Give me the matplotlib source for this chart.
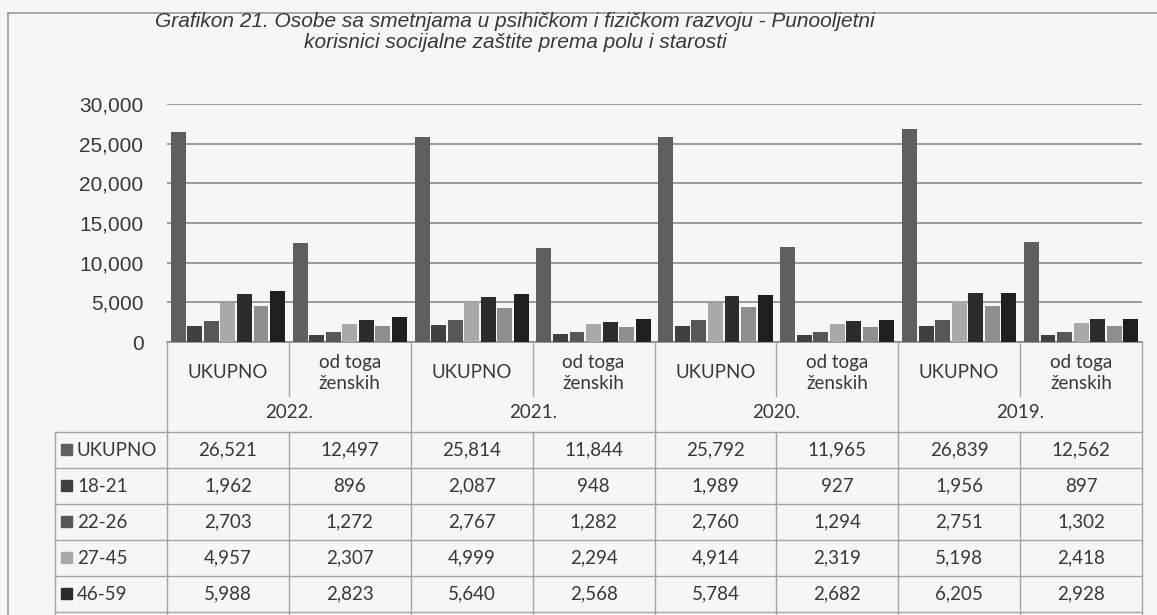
import matplotlib
matplotlib.use('Agg')
import matplotlib.pyplot as plt
import matplotlib.transforms as mtransforms
from matplotlib.lines import Line2D
from matplotlib.patches import Rectangle
from matplotlib.ticker import FuncFormatter
import numpy as np

# ---------------- data ----------------
title = ("Grafikon 21. Osobe sa smetnjama u psihičkom i fizičkom razvoju - Punooljetni\n"
         "korisnici socijalne zaštite prema polu i starosti")
years = ['2022.', '2021.', '2020.', '2019.']
subcats = ['UKUPNO', 'od toga\nženskih']
series_names = ['UKUPNO', '18-21', '22-26', '27-45', '46-59', '60-64', '65+']

ukupno = [26521, 12497, 25814, 11844, 25792, 11965, 26839, 12562]
s18_21 = [1962, 896, 2087, 948, 1989, 927, 1956, 897]
s22_26 = [2703, 1272, 2767, 1282, 2760, 1294, 2751, 1302]
s27_45 = [4957, 2307, 4999, 2294, 4914, 2319, 5198, 2418]
s46_59 = [5988, 2823, 5640, 2568, 5784, 2682, 6205, 2928]
s60_64 = [4500, 2000, 4250, 1888, 4366, 1907, 4560, 2067]   # estimated from bars (table rows cut off)
s65 = [6411, 3199, 6071, 2864, 5979, 2836, 6169, 2950]      # estimated from bars (table rows cut off)

series_values = [ukupno, s18_21, s22_26, s27_45, s46_59, s60_64, s65]
colors = ['#5f5f5f', '#404040', '#575757', '#a9a9a9', '#2c2c2c', '#8e8e8e', '#1f1f1f']
n_table_rows_visible = 5   # the reference picture is cut after the 46-59 row

# ---------------- layout ----------------
W, H = 1157, 615
BG = '#f6f6f4'
TXT = '#383838'
LINE = '#a4a4a4'

def fx(px):
    return px / W

def fy(py):
    return 1 - py / H

fig = plt.figure(figsize=(W / 100, H / 100), dpi=100, facecolor=BG)

L, R, T, B = 167, 1142, 104, 342
ax = fig.add_axes([fx(L), fy(B), fx(R) - fx(L), fy(T) - fy(B)])
ax.set_facecolor(BG)
n_cat = len(ukupno)
ax.set_xlim(-0.5, n_cat - 0.5)
ax.set_ylim(0, 30000)
ax.set_yticks(range(0, 30001, 5000))
ax.yaxis.set_major_formatter(FuncFormatter(lambda v, p: f'{int(v):,}'))
ax.tick_params(axis='y', length=0, pad=17, labelsize=15, labelcolor=TXT)
for lab in ax.get_yticklabels():
    lab.set_family(['Liberation Sans', 'DejaVu Sans'])
ax.set_xticks([])
ax.grid(axis='y', color='#8c8c8c', lw=1.2)
ax.set_axisbelow(True)
for s in ['top', 'right', 'left']:
    ax.spines[s].set_visible(False)
ax.spines['bottom'].set_color('#8c8c8c')
ax.spines['bottom'].set_linewidth(1.2)

# bars
ns = len(series_values)
group_w = 0.95
step = group_w / ns
bw = step * 0.9
x = np.arange(n_cat)
for i, (vals, col) in enumerate(zip(series_values, colors)):
    off = -group_w / 2 + step * (i + 0.5)
    ax.bar(x + off, vals, width=bw, color=col, edgecolor='none', zorder=3)

# title
fig.text(fx(515), fy(32), title, ha='center', va='center', fontsize=15,
         style='italic', color=TXT, family=['Liberation Sans', 'DejaVu Sans'],
         linespacing=1.1)

# border of chart area
fig.add_artist(Line2D([fx(8), 1.0], [fy(13), fy(13)], transform=fig.transFigure,
                      color='#9a9a9a', lw=1.2))
fig.add_artist(Line2D([fx(8), fx(8)], [fy(13), 0], transform=fig.transFigure,
                      color='#9a9a9a', lw=1.2))

# ---------------- category axis / data table ----------------
trans = mtransforms.blended_transform_factory(ax.transData, fig.transFigure)
tfont = ['Lato', 'DejaVu Sans']
FS = 13.5
TAB_TOP = 432
ROW_H = 36

for k in range(n_cat + 1):
    xb = k - 0.5
    if k % 2 == 0:
        fig.add_artist(Line2D([xb, xb], [fy(B), 0], transform=trans, color=LINE, lw=1.0))
    else:
        fig.add_artist(Line2D([xb, xb], [fy(B), fy(396)], transform=trans, color=LINE, lw=1.0))
        fig.add_artist(Line2D([xb, xb], [fy(TAB_TOP), 0], transform=trans,
                              color=LINE, lw=1.0))

for k in range(n_cat):
    fig.text(k, fy(373), subcats[k % 2], transform=trans, ha='center', va='center',
             fontsize=FS, color=TXT, family=tfont, linespacing=1.35)
for j, yr in enumerate(years):
    fig.text(2 * j + 0.5, fy(413), yr, transform=trans, ha='center', va='center',
             fontsize=FS, color=TXT, family=tfont)

# table grid
TL = 55
for r in range(n_table_rows_visible + 1):
    yy = fy(TAB_TOP + ROW_H * r)
    fig.add_artist(Line2D([fx(TL), fx(R)], [yy, yy], transform=fig.transFigure,
                          color=LINE, lw=1.0))
fig.add_artist(Line2D([fx(TL), fx(TL)], [fy(TAB_TOP), 0],
                      transform=fig.transFigure, color=LINE, lw=1.0))

rows = list(zip(series_names, series_values, colors))[:n_table_rows_visible]
for r, (name, vals, col) in enumerate(rows):
    yc = TAB_TOP + ROW_H * r + ROW_H / 2
    fig.add_artist(Rectangle((fx(61), fy(yc + 5)), fx(11), 11 / H,
                             transform=fig.transFigure, color=col))
    fig.text(fx(77), fy(yc), name, ha='left', va='center', fontsize=FS,
             color=TXT, family=tfont)
    for k, v in enumerate(vals):
        fig.text(k, fy(yc), f'{v:,}', transform=trans, ha='center', va='center',
                 fontsize=FS, color=TXT, family=tfont)

fig.savefig('out.png', dpi=100, facecolor=BG)
